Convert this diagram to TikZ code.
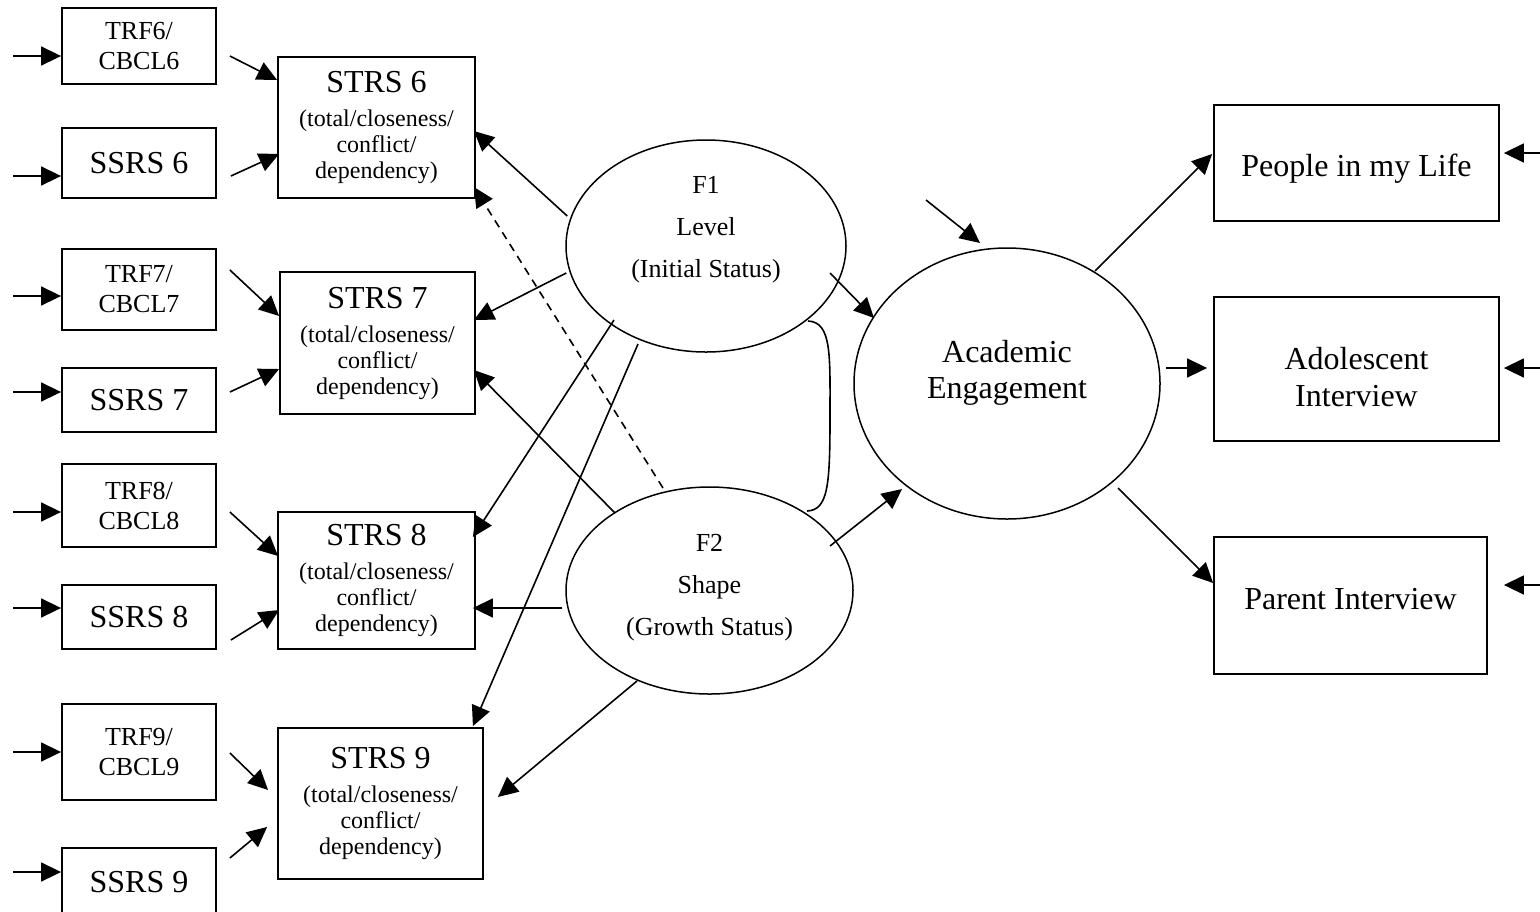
\documentclass[tikz,border=0pt]{standalone}
\usepackage{fontspec}
\setmainfont{Liberation Serif}
\usetikzlibrary{arrows.meta,calc,shapes.geometric}
\begin{document}
\begin{tikzpicture}[x=0.5pt,y=-0.5pt,
  box/.style={draw, line width=0.9pt, rectangle, inner sep=0pt, align=center},
  oval/.style={draw, line width=0.75pt, ellipse, inner sep=0pt},
  lbl/.style={align=center, inner sep=0pt},
  arr/.style={line width=0.8pt, -{Triangle[length=10pt,width=9.5pt]}},
  ln/.style={line width=0.8pt},
  dsh/.style={line width=0.8pt, dash pattern=on 4pt off 3pt, -{Triangle[length=10pt,width=9.5pt]}},
  small/.style={font=\fontsize{13}{15}\selectfont},
  big/.style={font=\fontsize{16}{18.5}\selectfont},
  strs/.style={box, font=\fontsize{12}{13}\selectfont},
  flbl/.style={lbl, font=\fontsize{13}{21}\selectfont},
]
\useasboundingbox (0,0) rectangle (1540,911);

% left observed boxes
\node[box, small, minimum width=77pt, minimum height=38pt]   (trf6)  at (139,46)    {TRF6/\\CBCL6};
\node[box, big,   minimum width=77pt, minimum height=35pt]   (ssrs6) at (139,163)   {SSRS 6};
\node[box, small, minimum width=77pt, minimum height=40.5pt] (trf7)  at (139,289.5) {TRF7/\\CBCL7};
\node[box, big,   minimum width=77pt, minimum height=32pt]   (ssrs7) at (139,400)   {SSRS 7};
\node[box, small, minimum width=77pt, minimum height=41.5pt] (trf8)  at (139,505.5) {TRF8/\\CBCL8};
\node[box, big,   minimum width=77pt, minimum height=32pt]   (ssrs8) at (139,617)   {SSRS 8};
\node[box, small, minimum width=77pt, minimum height=48pt]   (trf9)  at (139,752)   {TRF9/\\CBCL9};
\node[box, big,   minimum width=77pt, minimum height=34pt]   (ssrs9) at (139,882)   {SSRS 9};

% STRS boxes
\node[strs, minimum width=98.5pt, minimum height=70.5pt] (strs6) at (376.5,127.5)
  {{\fontsize{16}{18}\selectfont STRS 6}\\[4pt](total/closeness/\\conflict/\\dependency)};
\node[strs, minimum width=97.5pt, minimum height=71pt] (strs7) at (377.5,343)
  {{\fontsize{16}{18}\selectfont STRS 7}\\[4pt](total/closeness/\\conflict/\\dependency)};
\node[strs, minimum width=98.5pt, minimum height=68.5pt] (strs8) at (376.5,580.5)
  {{\fontsize{16}{18}\selectfont STRS 8}\\[4pt](total/closeness/\\conflict/\\dependency)};
\node[strs, minimum width=102.5pt, minimum height=75.5pt] (strs9) at (380.5,803.5)
  {{\fontsize{16}{18}\selectfont STRS 9}\\[4pt](total/closeness/\\conflict/\\dependency)};

% latent factors
\node[oval, minimum width=140pt, minimum height=106pt] (f1) at (706,246) {};
\node[flbl] (f1t) at (706,229.5) {F1\\Level\\(Initial Status)};
\node[oval, minimum width=143.5pt, minimum height=103.5pt] (f2) at (709.5,590.5) {};
\node[flbl] (f2t) at (709.5,588) {F2\\Shape\\(Growth Status)};
\node[oval, minimum width=153pt, minimum height=135.5pt] (acad) at (1007,383.5) {};
\node[lbl, font=\fontsize{16}{18}\selectfont] (acadt) at (1007,372.5) {Academic\\Engagement};

% right boxes
\node[box, minimum width=142.5pt, minimum height=58pt] (people) at (1356.5,163) {};
\node[lbl, big] (peoplet) at (1356.5,168.5) {People in my Life};
\node[box, minimum width=142.5pt, minimum height=72pt] (adol) at (1356.5,369) {};
\node[lbl, big] (adolt) at (1356.5,377) {Adolescent\\Interview};
\node[box, minimum width=136.5pt, minimum height=68.5pt] (parent) at (1350.5,605.5) {};
\node[lbl, big] (parentt) at (1350.5,599.5) {Parent Interview};

% free ends of error arrows
\coordinate (l1) at (13,56);
\coordinate (l2) at (13,176);
\coordinate (l3) at (13,296);
\coordinate (l4) at (13,392);
\coordinate (l5) at (13,512);
\coordinate (l6) at (13,608);
\coordinate (l7) at (13,752);
\coordinate (l8) at (13,872);
\coordinate (r1) at (1545,153);
\coordinate (r2) at (1545,368);
\coordinate (r3) at (1545,585);
\coordinate (a0) at (926,200);

\draw[arr] (l1) -- (l1 -| trf6.west);
\draw[arr] (l2) -- (l2 -| ssrs6.west);
\draw[arr] (l3) -- (l3 -| trf7.west);
\draw[arr] (l4) -- (l4 -| ssrs7.west);
\draw[arr] (l5) -- (l5 -| trf8.west);
\draw[arr] (l6) -- (l6 -| ssrs8.west);
\draw[arr] (l7) -- (l7 -| trf9.west);
\draw[arr] (l8) -- (l8 -| ssrs9.west);
\draw[arr] (r1) -- ($(r1 -| people.east)+(4,0)$);
\draw[arr] (r2) -- ($(r2 -| adol.east)+(4,0)$);
\draw[arr] (r3) -- ($(r3 -| parent.east)+(16,0)$);
\draw[arr] (a0) -- ($(acad)+(-27,-140.5)$);

% observed -> STRS
\draw[arr] ($(trf6.east)+(13,10)$)   -- ($(strs6.west)+(0,-47.5)$);
\draw[arr] ($(ssrs6.east)+(14,13)$)  -- ($(strs6.west)+(2,26.5)$);
\draw[arr] ($(trf7.east)+(13,-19.5)$) -- ($(strs7.west)+(0,-27)$);
\draw[arr] ($(ssrs7.east)+(13,-8)$)  -- ($(strs7.west)+(0,26)$);
\draw[arr] ($(trf8.east)+(13,6.5)$)  -- ($(strs8.west)+(1,-24.5)$);
\draw[arr] ($(ssrs8.east)+(14,23)$)  -- ($(strs8.west)+(2,29.5)$);
\draw[arr] ($(trf9.east)+(13,1)$)    -- ($(strs9.west)+(-9,-13.5)$);
\draw[arr] ($(ssrs9.east)+(13,-24)$) -- ($(strs9.west)+(-10,23.5)$);

% F1 loadings
\draw[arr] ($(f1.west)+(2,-30)$) -- ($(strs6.east)+(-2,3.5)$);
\draw[arr] ($(f1.west)+(1,27)$)  -- ($(strs7.east)+(-2,-23)$);
\draw[arr] ($(f1)+(-92,74)$)     -- ($(strs8.east)+(-3,-43.5)$);
\draw[arr] ($(f1)+(-68,98)$)     -- ($(strs9.north east)+(-11,-1)$);
\draw[arr] ($(f1)+(124,27)$)     -- ($(acad)+(-133,-65.5)$);

% F2 loadings
\draw[dsh] ($(f2)+(-46.5,-102.5)$) -- ($(strs6.east)+(-2,59.5)$);
\draw[arr] ($(f2)+(-94.5,-77.5)$)  -- ($(strs7.east)+(-2,27)$);
\draw[arr] ($(f2.west)+(-3,17.5)$) -- ($(strs8.east)+(-3,27.5)$);
\draw[arr] ($(f2)+(-72.5,90.5)$)   -- ($(strs9.east)+(14,-6.5)$);
\draw[arr] ($(f2)+(120.5,-44.5)$)  -- ($(acad)+(-105,105.5)$);

% covariance
\draw[ln] ($(f1)+(102,75)$) .. controls ($(f1)+(126,76)$) and ($(f1)+(124,110)$) .. ($(f1)+(124,170)$)
  .. controls ($(f1)+(124,240)$) and ($(f1)+(122,264)$) .. ($(f2)+(97.5,-79.5)$);

% outcome indicators
\draw[arr] ($(acad)+(88,-112.5)$)  -- ($(people.west)+(-1,-9)$);
\draw[arr] ($(acad)+(159,-15.5)$)  -- ($(adol.west)+(-6,-1)$);
\draw[arr] ($(acad)+(111,104.5)$)  -- ($(parent.west)+(0,-22.5)$);
\end{tikzpicture}
\end{document}
